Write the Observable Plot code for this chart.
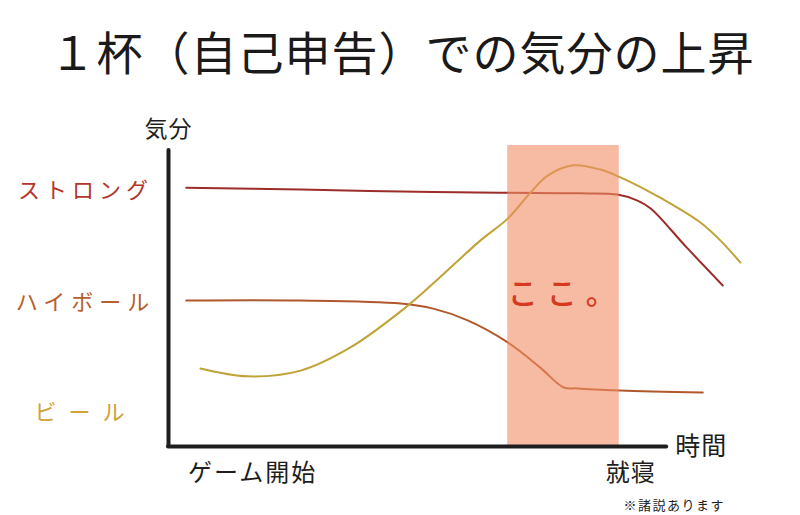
<!DOCTYPE html>
<html>
<head>
<meta charset="utf-8">
<script src="https://cdn.jsdelivr.net/npm/d3@7"></script>
<script src="https://cdn.jsdelivr.net/npm/@observablehq/plot@0.6"></script>
<style>
  html, body { margin: 0; padding: 0; background: #fff; }
  body { width: 800px; height: 515px; overflow: hidden; font-family: "Noto Sans CJK JP", sans-serif; }
  #title { height: 95px; box-sizing: border-box; padding-top: 27px; text-align: center; font-size: 46px; line-height: 1; font-weight: 400; letter-spacing: 1px; color: #1a1a1a; padding-left: 4px; }
  #chart svg { display: block; }
</style>
</head>
<body>
<div id="title">１杯（自己申告）での気分の上昇</div>
<div id="chart"></div>
<script>
// Series names, colours and label levels
const seriesNames = ["ストロング", "ハイボール", "ビール"];
const labelLevels = [85, 47.8, 11];
const labelColors = ["#b3352b", "#b5602e", "#cca23a"];
const lineColors = ["#9c2d2a", "#b0582c", "#c0a236"];

// Time (0–100) and mood (0–100)
const strongTime = [3.1, 23.1, 40.6, 58.0, 72.0, 78.5, 82.0, 84.3, 90.5, 96.9];
const strongMood = [86.0, 85.4, 84.7, 84.3, 84.1, 83.7, 81.7, 79.1, 66.3, 53.5];
const highballTime = [3.1, 23.1, 40.6, 46.3, 52.3, 59.3, 65.0, 69.1, 71.5, 79.0, 93.4];
const highballMood = [48.5, 48.5, 47.5, 45.8, 41.9, 34.6, 26.2, 19.6, 19.3, 18.6, 17.9];
const beerTime = [5.6, 13.8, 23.1, 31.8, 40.6, 46.3, 54.5, 59.3, 63.3, 66.3, 70.8, 75.5, 79.0, 83.7, 88.3, 93.0, 96.5, 100];
const beerMood = [25.9, 23.3, 25.2, 32.9, 44.9, 54.2, 68.4, 75.7, 84.4, 90.0, 93.4, 92.0, 89.4, 85.0, 80.1, 74.4, 68.4, 61.1];

// Highlighted time window ("ここ。")
const highlightTime = [59.3, 78.8];
const highlightMood = [0, 100];
const highlightNote = "ここ。";

// Axis texts
const xAxisEnd = 87.1;
const yAxisEnd = 98.3;
const xAxisName = "時間";
const yAxisName = "気分";
const xTickLabels = ["ゲーム開始", "就寝"];
const xTickTimes = [14.7, 80.8];
const footnote = "※諸説あります";

const toRows = (name, ts, vs) => ts.map((t, i) => ({series: name, time: t, mood: vs[i]}));
const rows = [
  ...toRows(seriesNames[0], strongTime, strongMood),
  ...toRows(seriesNames[1], highballTime, highballMood),
  ...toRows(seriesNames[2], beerTime, beerMood)
];
const labels = seriesNames.map((s, i) => ({series: s, level: labelLevels[i]}));

const font = "Noto Sans CJK JP";

const chart = Plot.plot({
  width: 800,
  height: 420,
  marginLeft: 168,
  marginRight: 60,
  marginTop: 50,
  marginBottom: 69,
  style: {fontFamily: font, background: "transparent"},
  x: {domain: [0, 100], axis: null},
  y: {domain: [0, 100], axis: null},
  color: {domain: seriesNames, range: lineColors},
  marks: [
    Plot.line(rows, {x: "time", y: "mood", z: "series", stroke: "series", strokeWidth: 2, curve: "catmull-rom"}),
    Plot.rect([0], {x1: () => highlightTime[0], x2: () => highlightTime[1], y1: () => highlightMood[0], y2: () => highlightMood[1], fill: "#f08e64", fillOpacity: 0.6}),
    Plot.text([highlightNote], {x: () => (highlightTime[0] + highlightTime[1]) / 2 + 0.5, y: () => 50.5, text: d => d, fill: "#d5391f", fontSize: 30, fontWeight: 500}),
    Plot.ruleX([0], {y1: 0, y2: yAxisEnd, stroke: "#1e1e1e", strokeWidth: 4, strokeLinecap: "round"}),
    Plot.ruleY([0], {x1: 0, x2: xAxisEnd, stroke: "#1e1e1e", strokeWidth: 4, strokeLinecap: "round"}),
    Plot.text(labels, {y: "level", text: "series", frameAnchor: "left", dx: -83, textAnchor: "middle", fill: (d, i) => labelColors[i], fontSize: 22, fontWeight: 400}),
    Plot.text([yAxisName], {x: 0, y: 105.3, text: d => d, fontSize: 23, fontWeight: 400, fill: "#1e1e1e"}),
    Plot.text([xAxisName], {x: 88.6, y: 0, text: d => d, textAnchor: "start", fontSize: 25, fontWeight: 400, fill: "#1e1e1e"}),
    Plot.text(xTickLabels, {x: (d, i) => xTickTimes[i], y: -9, text: d => d, fontSize: 24, fontWeight: 400, fill: "#1e1e1e"}),
    Plot.text([footnote], {x: 88.4, y: -19.6, text: d => d, fontSize: 13, fontWeight: 400, fill: "#1e1e1e"})
  ]
});

const spacing = {"ストロング": "5px", "ハイボール": "6px", "ビール": "12px", "ここ。": "9px", "ゲーム開始": "2px", "※諸説あります": "1.5px", "気分": "1px", "時間": "1px", "就寝": "1px"};
d3.select(chart).selectAll("text").each(function() {
  const s = spacing[this.textContent];
  if (s) this.style.letterSpacing = s;
});
document.getElementById("chart").appendChild(chart);
</script>
</body>
</html>
